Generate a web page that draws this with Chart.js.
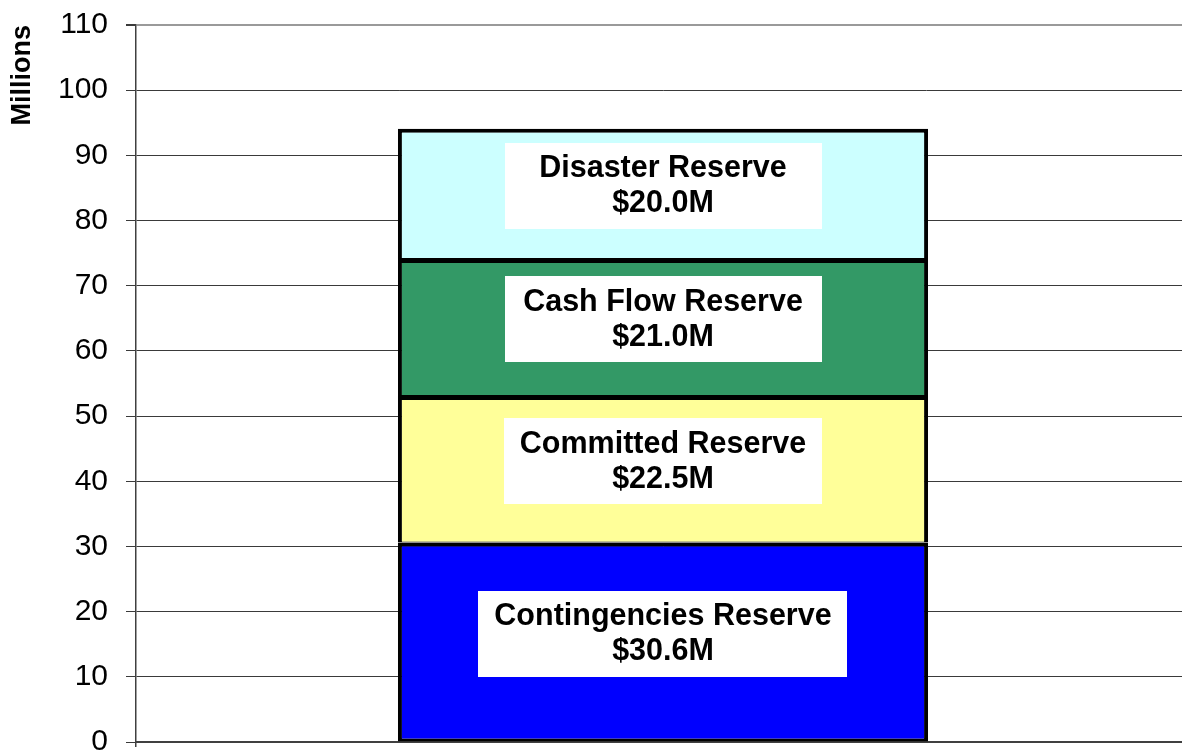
<!DOCTYPE html>
<html>
<head>
<meta charset="utf-8">
<script src="https://cdn.jsdelivr.net/npm/chart.js@4/dist/chart.umd.min.js"></script>
<style>
  html, body { margin: 0; padding: 0; overflow: hidden; background: #fff; }
  #wrap { width: 1190px; height: 754px; }
</style>
</head>
<body>
<div id="wrap"><canvas id="c" width="1190" height="754"></canvas></div>
<script>
const categories = ['Reserves'];
const seriesNames = ['Contingencies Reserve', 'Committed Reserve', 'Cash Flow Reserve', 'Disaster Reserve'];
const seriesValues = [30.6, 22.5, 21.0, 20.0];
const yMin = 0, yMax = 110, yStep = 10;
const yAxisTitle = 'Millions';

const FONT = "'Liberation Sans', Arial, Helvetica, sans-serif";
const fills = ['#0000FF', '#FFFF99', '#339966', '#CCFFFF'];

const datasets = seriesNames.map((name, i) => ({
  label: name,
  data: [seriesValues[i]],
  backgroundColor: fills[i],
  borderColor: '#000000',
  borderWidth: { top: 4, left: 4, right: 4, bottom: i === 0 ? 3 : 1 },
  borderSkipped: false,
  barPercentage: 0.503,
  categoryPercentage: 1.0
}));

const labelBoxes = {
  id: 'labelBoxes',
  afterDatasetsDraw(chart) {
    const ctx = chart.ctx;
    ctx.save();
    ctx.font = 'bold 30.5px ' + FONT;
    chart.data.datasets.forEach((ds, i) => {
      const el = chart.getDatasetMeta(i).data[0];
      if (!el) return;
      const line1 = ds.label;
      const line2 = '$' + ds.data[0].toFixed(1) + 'M';
      const tw = Math.max(ctx.measureText(line1).width, ctx.measureText(line2).width);
      const bw = Math.max(317, tw + 32);
      const bh = 86;
      const cx = el.x;
      const cy = (el.y + el.base) / 2 - 8;
      ctx.fillStyle = '#FFFFFF';
      ctx.fillRect(Math.round(cx - bw / 2), Math.round(cy - bh / 2), Math.round(bw), bh);
      ctx.fillStyle = '#000000';
      ctx.textAlign = 'center';
      ctx.textBaseline = 'middle';
      ctx.fillText(line1, cx, cy - 17);
      ctx.fillText(line2, cx, cy + 18);
    });
    ctx.restore();
  }
};

new Chart(document.getElementById('c'), {
  type: 'bar',
  data: { labels: categories, datasets },
  plugins: [labelBoxes],
  options: {
    responsive: false,
    animation: false,
    layout: { padding: { top: 25, right: 0, bottom: 0, left: 0 } },
    plugins: { legend: { display: false }, tooltip: { enabled: false } },
    scales: {
      x: {
        stacked: true,
        offset: true,
        ticks: { display: false },
        grid: { drawOnChartArea: false, drawTicks: true, tickLength: 5, color: '#404040', lineWidth: 1.5 },
        border: { display: true, color: '#404040', width: 2 },
        afterFit(scale) { scale.height = 12; }
      },
      y: {
        stacked: true,
        min: yMin,
        max: yMax,
        ticks: {
          stepSize: yStep,
          color: '#000000',
          padding: 18,
          font: { family: FONT, size: 30 }
        },
        grid: {
          color: (c) => (c.tick && c.tick.value === yMax) ? '#9a9a9a' : '#3a3a3a',
          lineWidth: (c) => (c.tick && c.tick.value === yMax) ? 2 : 1,
          tickLength: 10,
          tickColor: '#3a3a3a'
        },
        border: { display: true, color: '#404040', width: 1.5 },
        title: {
          display: true,
          text: yAxisTitle,
          align: 'end',
          color: '#000000',
          font: { family: FONT, size: 27, weight: 'bold' },
          padding: { top: 6, bottom: 0 }
        },
        afterFit(scale) {
          scale.width = 136;
          scale.paddingTop = 0;
          scale.paddingBottom = 0;
        }
      }
    }
  }
});
</script>
</body>
</html>
